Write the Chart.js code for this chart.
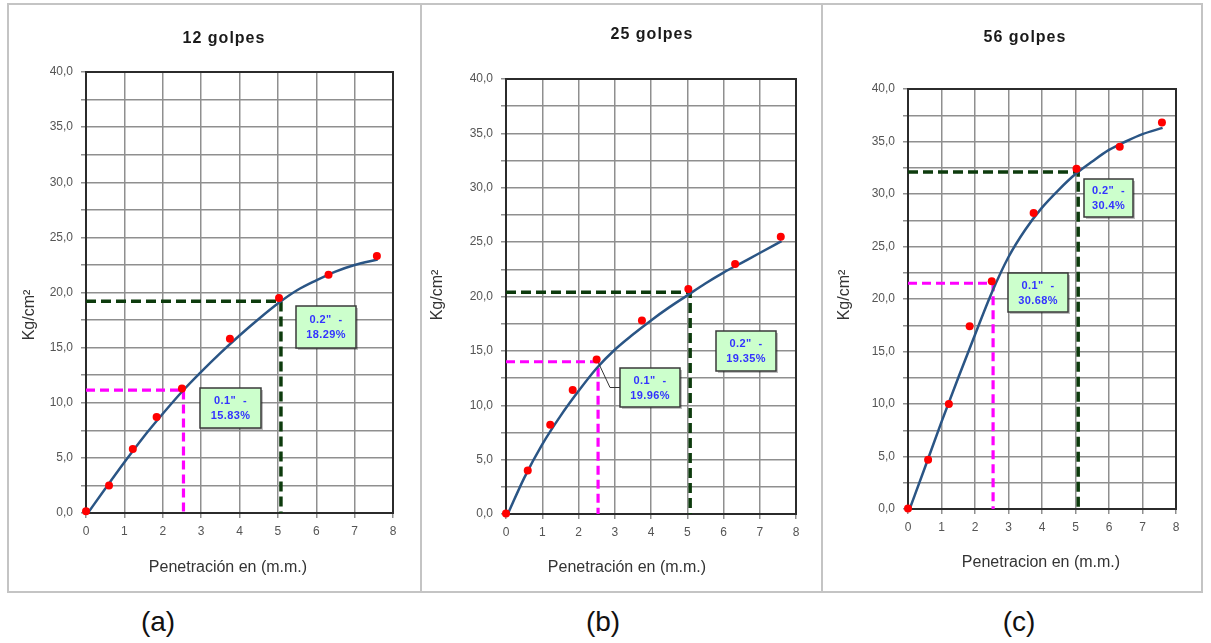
<!DOCTYPE html>
<html lang="es">
<head>
<meta charset="UTF-8">
<title>CBR - curvas de penetración</title>
<script src="https://cdn.jsdelivr.net/npm/chart.js"></script>
<style>
  body { margin: 0; background: #fff; width: 1211px; height: 643px; position: relative; overflow: hidden;
         font-family: "Liberation Sans", Arial, sans-serif; }
  .frame { position: absolute; left: 7px; top: 3px; width: 1196px; height: 590px; border: 2px solid #c4c4c4; box-sizing: border-box; }
  .divider { position: absolute; top: 3px; width: 2px; height: 590px; background: #c4c4c4; }
  .box { position: absolute; top: 5px; height: 586px; }
  .tag { position: absolute; top: 604px; width: 60px; text-align: center; font-size: 28px; line-height: 36px; color: #111; }
</style>
</head>
<body>
<div class="frame"></div>
<div class="divider" style="left:420px"></div>
<div class="divider" style="left:821px"></div>

<div class="box" style="left:9px;width:410px"><canvas id="chartA"></canvas></div>
<div class="box" style="left:422px;width:399px"><canvas id="chartB"></canvas></div>
<div class="box" style="left:823px;width:378px"><canvas id="chartC"></canvas></div>

<div class="tag" style="left:128px">(a)</div>
<div class="tag" style="left:573px">(b)</div>
<div class="tag" style="left:989px">(c)</div>

<script>
// ensayo CBR - lecturas de penetracion (mm) y carga (kg/cm2)
const penetracion = [0, 0.6, 1.22, 1.84, 2.5, 3.75, 5.03, 6.32, 7.58];
const carga12 = [0.15, 2.5, 5.8, 8.7, 11.3, 15.8, 19.5, 21.6, 23.3];
const carga25 = [0.05, 4.0, 8.2, 11.4, 14.2, 17.8, 20.7, 23.0, 25.5];
const carga56 = [0.05, 4.7, 10.0, 17.4, 21.7, 28.2, 32.4, 34.5, 36.8];

// curva de ajuste
const curvaX = [0.05, 0.5, 1, 1.5, 2, 2.5, 3, 3.5, 4, 4.5, 5, 5.5, 6, 6.5, 7, 7.6];
const curva12 = [0, 2.2, 4.6, 6.9, 9.0, 11.0, 12.8, 14.5, 16.1, 17.6, 19.0, 20.2, 21.1, 21.9, 22.5, 23.0];
const curva25 = [0, 3.3, 6.4, 9.0, 11.3, 13.4, 15.1, 16.5, 17.8, 19.0, 20.1, 21.2, 22.2, 23.1, 24.0, 25.1];
const curva56 = [0, 3.9, 8.3, 12.5, 16.6, 20.6, 24.0, 26.6, 28.7, 30.4, 31.9, 33.1, 34.2, 35.0, 35.7, 36.3];

// lecturas a 0.1" (2.54 mm) y 0.2" (5.08 mm)
const pen01 = 2.54;
const pen02 = 5.08;
const carga01 = [11.15, 14.0, 21.5];
const carga02 = [19.2, 20.4, 32.1];
const cbr01 = ['15.83%', '19.96%', '30.68%'];
const cbr02 = ['18.29%', '19.35%', '30.4%'];

const titulos = ['12 golpes', '25 golpes', '56 golpes'];
const xTicks = [0, 1, 2, 3, 4, 5, 6, 7, 8];

Chart.defaults.font.family = "'Liberation Sans', Arial, sans-serif";

const pts = (xs, ys) => xs.map((x, i) => ({ x, y: ys[i] }));

// marco, cuadros de texto y titulos
const panelDecor = {
    id: 'panelDecor',
    beforeDatasetsDraw(chart) {
        const { ctx, chartArea: a } = chart;
        ctx.save();
        ctx.strokeStyle = '#2b2b2b';
        ctx.lineWidth = 2;
        ctx.strokeRect(a.left, a.top, a.right - a.left, a.bottom - a.top);
        ctx.restore();
    },
    afterDatasetsDraw(chart, args, opts) {
        const { ctx, scales: { x, y } } = chart;
        ctx.save();
        opts.boxes.forEach(b => {
            const bx = Math.round(x.getPixelForValue(b.x)), by = Math.round(y.getPixelForValue(b.y));
            if (b.leader) {
                const mid = by + b.h / 2;
                ctx.strokeStyle = '#333';
                ctx.lineWidth = 1;
                ctx.beginPath();
                ctx.moveTo(x.getPixelForValue(b.leader[0]), y.getPixelForValue(b.leader[1]));
                ctx.lineTo(bx - 10, mid);
                ctx.lineTo(bx, mid);
                ctx.stroke();
            }
            ctx.fillStyle = 'rgba(0,0,0,0.25)';
            ctx.fillRect(bx + 2, by + 2, b.w, b.h);
            ctx.fillStyle = '#ccffcc';
            ctx.fillRect(bx, by, b.w, b.h);
            ctx.strokeStyle = '#3a3a3a';
            ctx.lineWidth = 1.5;
            ctx.strokeRect(bx, by, b.w, b.h);
            ctx.fillStyle = '#3333ff';
            ctx.font = "bold 11px 'Liberation Sans', Arial, sans-serif";
            ctx.letterSpacing = '0.4px';
            ctx.textAlign = 'center';
            ctx.textBaseline = 'middle';
            ctx.fillText(b.lines[0], bx + b.w / 2, by + b.h / 2 - 7);
            ctx.fillText(b.lines[1], bx + b.w / 2, by + b.h / 2 + 8);
        });
        ctx.restore();
    },
    afterDraw(chart, args, opts) {
        const { ctx } = chart;
        ctx.save();
        ctx.textAlign = 'center';
        ctx.textBaseline = 'middle';
        ctx.fillStyle = '#1a1a1a';
        ctx.font = "bold 16px 'Liberation Sans', Arial, sans-serif";
        ctx.letterSpacing = '1px';
        ctx.fillText(opts.title, opts.titlePos[0], opts.titlePos[1]);
        ctx.letterSpacing = '0px';
        ctx.fillStyle = '#333';
        ctx.font = "16px 'Liberation Sans', Arial, sans-serif";
        ctx.fillText(opts.xTitle, opts.xTitlePos[0], opts.xTitlePos[1]);
        ctx.translate(opts.yTitlePos[0], opts.yTitlePos[1]);
        ctx.rotate(-Math.PI / 2);
        ctx.fillText('Kg/cm²', 0, 0);
        ctx.restore();
    }
};

function makeChart(id, idx, carga, curva, pad, decor) {
    const ctx = document.getElementById(id).getContext('2d');
    return new Chart(ctx, {
        type: 'scatter',
        data: {
            datasets: [
                { label: 'Lecturas', data: pts(penetracion, carga), backgroundColor: '#ff0000', borderColor: '#ff0000',
                  pointRadius: 4, pointBorderWidth: 0, showLine: false, clip: false },
                { label: 'Curva', data: pts(curvaX, curva), borderColor: '#2a5585', borderWidth: 2.5,
                  pointRadius: 0, showLine: true, cubicInterpolationMode: 'monotone' },
                { label: '0.2"', data: [{ x: 0, y: carga02[idx] }, { x: pen02, y: carga02[idx] }, { x: pen02, y: 0 }],
                  borderColor: '#0d3b0d', borderWidth: 3.5, borderDash: [10, 5], pointRadius: 0, showLine: true, clip: false },
                { label: '0.1"', data: [{ x: 0, y: carga01[idx] }, { x: pen01, y: carga01[idx] }, { x: pen01, y: 0 }],
                  borderColor: '#ff00ff', borderWidth: 3.2, borderDash: [9, 5], pointRadius: 0, showLine: true, clip: false }
            ]
        },
        options: {
            responsive: true,
            maintainAspectRatio: false,
            animation: false,
            layout: { padding: pad },
            plugins: {
                legend: { display: false },
                tooltip: { enabled: false },
                panelDecor: decor
            },
            scales: {
                x: {
                    type: 'linear', min: 0, max: 8,
                    afterFit: s => { s.height = 40; },
                    afterBuildTicks: s => { s.ticks = xTicks.map(v => ({ value: v })); },
                    ticks: { color: '#555', font: { size: 12 }, padding: 6, maxRotation: 0 },
                    grid: { color: '#8f8f8f', lineWidth: 1.5, tickLength: 5 },
                    border: { color: '#2b2b2b', width: 2 }
                },
                y: {
                    min: 0, max: 40,
                    afterFit: s => { s.width = 40; },
                    ticks: {
                        stepSize: 2.5, color: '#555', font: { size: 12 }, padding: 8,
                        callback: v => (v % 5 === 0 ? v.toFixed(1).replace('.', ',') : '')
                    },
                    grid: { color: '#8f8f8f', lineWidth: 1.5, tickLength: 5 },
                    border: { color: '#2b2b2b', width: 2 }
                }
            }
        },
        plugins: [panelDecor]
    });
}

makeChart('chartA', 0, carga12, curva12,
    { left: 37, right: 26, top: 67, bottom: 38 },
    { title: titulos[0], titlePos: [215, 34], xTitle: 'Penetración en (m.m.)', xTitlePos: [219, 563], yTitlePos: [21, 310],
      boxes: [
        { x: 2.97, y: 11.36, w: 61, h: 40, lines: ['0.1"  -', cbr01[0]] },
        { x: 5.46, y: 18.8, w: 60, h: 42, lines: ['0.2"  -', cbr02[0]] }
      ] });

makeChart('chartB', 1, carga25, curva25,
    { left: 44, right: 25, top: 74, bottom: 37 },
    { title: titulos[1], titlePos: [230, 30], xTitle: 'Penetración en (m.m.)', xTitlePos: [205, 563], yTitlePos: [16, 290],
      boxes: [
        { x: 3.14, y: 13.43, w: 60, h: 39, lines: ['0.1"  -', cbr01[1]], leader: [2.55, 13.9] },
        { x: 5.78, y: 16.86, w: 60, h: 40, lines: ['0.2"  -', cbr02[1]] }
      ] });

makeChart('chartC', 2, carga56, curva56,
    { left: 45, right: 25, top: 84, bottom: 42 },
    { title: titulos[2], titlePos: [202, 33], xTitle: 'Penetracion en (m.m.)', xTitlePos: [218, 558], yTitlePos: [22, 290],
      boxes: [
        { x: 2.99, y: 22.5, w: 60, h: 39, lines: ['0.1"  -', cbr01[2]] },
        { x: 5.24, y: 31.4, w: 49, h: 38, lines: ['0.2"  -', cbr02[2]] }
      ] });
</script>
</body>
</html>
